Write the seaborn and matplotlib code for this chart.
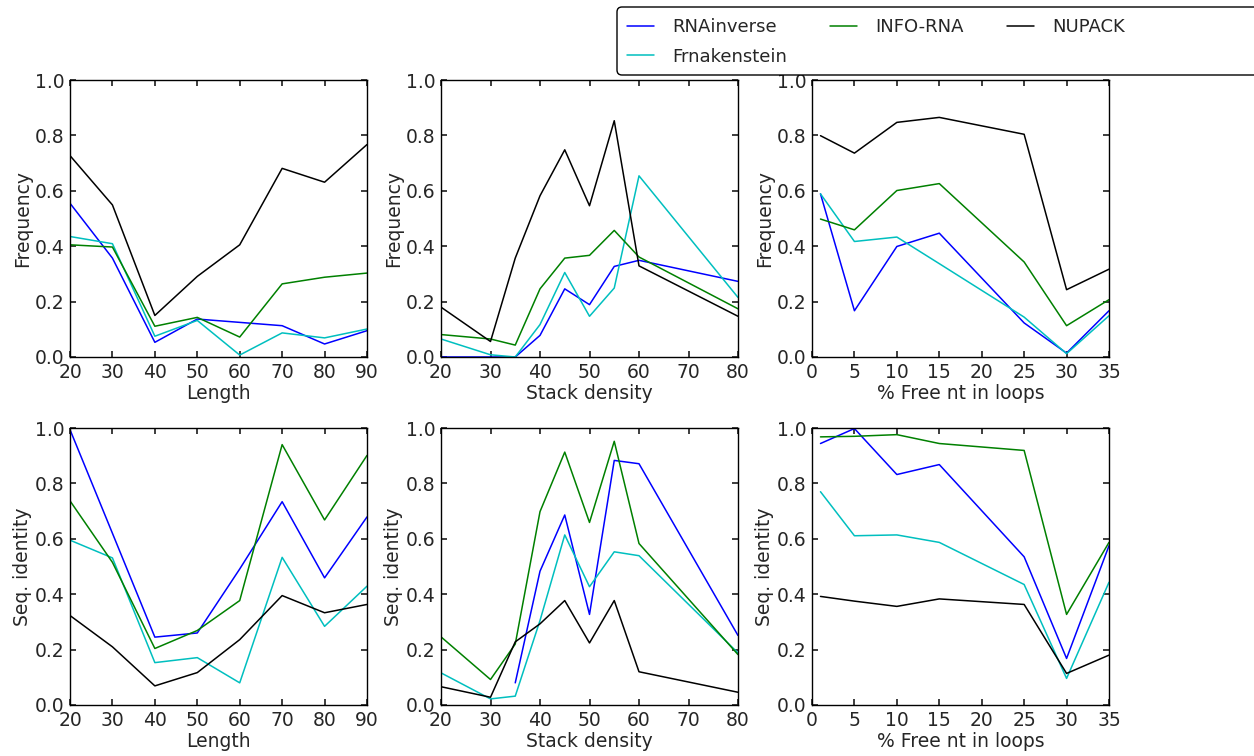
import numpy as np
import pandas as pd
import matplotlib
matplotlib.use("Agg")
import matplotlib.pyplot as plt
from matplotlib.patches import FancyBboxPatch
import seaborn as sns

# x positions for each panel column
length_x = [20, 30, 40, 50, 60, 70, 80, 90]
stack_x = [20, 30, 35, 40, 45, 50, 55, 60, 80]
free_x = [1, 5, 10, 15, 25, 30, 35]

methods = ["RNAinverse", "Frnakenstein", "INFO-RNA", "NUPACK"]

# Frequency vs length
freq_len_rnainverse = [0.555, 0.357, 0.053, 0.137, 0.125, 0.113, 0.047, 0.095]
freq_len_frnakenstein = [0.435, 0.409, 0.075, 0.132, 0.007, 0.087, 0.069, 0.101]
freq_len_inforna = [0.405, 0.397, 0.111, 0.143, 0.072, 0.264, 0.288, 0.303]
freq_len_nupack = [0.727, 0.549, 0.150, 0.291, 0.405, 0.681, 0.631, 0.767]

# Frequency vs stack density
freq_stack_rnainverse = [0.0, 0.0, 0.0, 0.078, 0.246, 0.189, 0.327, 0.349, 0.273]
freq_stack_frnakenstein = [0.065, 0.008, 0.0, 0.117, 0.305, 0.147, 0.249, 0.654, 0.215]
freq_stack_inforna = [0.081, 0.065, 0.043, 0.246, 0.357, 0.367, 0.457, 0.361, 0.174]
freq_stack_nupack = [0.180, 0.056, 0.357, 0.582, 0.748, 0.546, 0.853, 0.329, 0.147]

# Frequency vs % free nt in loops
freq_free_rnainverse = [0.589, 0.167, 0.399, 0.447, 0.123, 0.014, 0.167]
freq_free_frnakenstein = [0.589, 0.417, 0.433, 0.337, 0.144, 0.012, 0.149]
freq_free_inforna = [0.498, 0.459, 0.601, 0.626, 0.343, 0.113, 0.207]
freq_free_nupack = [0.799, 0.736, 0.847, 0.865, 0.804, 0.243, 0.317]

# Sequence identity vs length
seq_len_rnainverse = [0.994, 0.62, 0.245, 0.260, 0.491, 0.734, 0.459, 0.679]
seq_len_frnakenstein = [0.595, 0.531, 0.153, 0.171, 0.080, 0.533, 0.284, 0.429]
seq_len_inforna = [0.737, 0.515, 0.204, 0.269, 0.377, 0.940, 0.668, 0.901]
seq_len_nupack = [0.323, 0.21, 0.069, 0.117, 0.236, 0.395, 0.333, 0.363]

# Sequence identity vs stack density (RNAinverse has no value at 20, 30)
seq_stack_rnainverse = [np.nan, np.nan, 0.080, 0.483, 0.686, 0.327, 0.883, 0.871, 0.251]
seq_stack_frnakenstein = [0.116, 0.022, 0.032, 0.305, 0.614, 0.427, 0.553, 0.539, 0.188]
seq_stack_inforna = [0.246, 0.092, 0.22, 0.698, 0.913, 0.659, 0.952, 0.583, 0.182]
seq_stack_nupack = [0.066, 0.028, 0.228, 0.293, 0.377, 0.224, 0.377, 0.120, 0.046]

# Sequence identity vs % free nt in loops
seq_free_rnainverse = [0.944, 0.998, 0.832, 0.868, 0.535, 0.168, 0.575]
seq_free_frnakenstein = [0.770, 0.611, 0.614, 0.587, 0.435, 0.096, 0.443]
seq_free_inforna = [0.968, 0.970, 0.976, 0.944, 0.919, 0.327, 0.587]
seq_free_nupack = [0.392, 0.375, 0.356, 0.383, 0.363, 0.114, 0.180]

palette = {"RNAinverse": "#0000ff", "Frnakenstein": "#00bfbf",
           "INFO-RNA": "#008000", "NUPACK": "#000000"}


def long_frame(x, series):
    rows = []
    for name, vals in zip(methods, series):
        for xv, yv in zip(x, vals):
            rows.append({"x": xv, "y": yv, "method": name})
    return pd.DataFrame(rows).dropna()


panels = [
    (length_x, [freq_len_rnainverse, freq_len_frnakenstein, freq_len_inforna, freq_len_nupack],
     "Length", "Frequency", (20, 90), np.arange(20, 91, 10)),
    (stack_x, [freq_stack_rnainverse, freq_stack_frnakenstein, freq_stack_inforna, freq_stack_nupack],
     "Stack density", "Frequency", (20, 80), np.arange(20, 81, 10)),
    (free_x, [freq_free_rnainverse, freq_free_frnakenstein, freq_free_inforna, freq_free_nupack],
     "% Free nt in loops", "Frequency", (0, 35), np.arange(0, 36, 5)),
    (length_x, [seq_len_rnainverse, seq_len_frnakenstein, seq_len_inforna, seq_len_nupack],
     "Length", "Seq. identity", (20, 90), np.arange(20, 91, 10)),
    (stack_x, [seq_stack_rnainverse, seq_stack_frnakenstein, seq_stack_inforna, seq_stack_nupack],
     "Stack density", "Seq. identity", (20, 80), np.arange(20, 81, 10)),
    (free_x, [seq_free_rnainverse, seq_free_frnakenstein, seq_free_inforna, seq_free_nupack],
     "% Free nt in loops", "Seq. identity", (0, 35), np.arange(0, 36, 5)),
]

sns.set_theme(style="white", rc={
    "axes.edgecolor": "black", "axes.linewidth": 1.0,
    "xtick.direction": "in", "ytick.direction": "in",
    "xtick.top": True, "ytick.right": True,
    "xtick.bottom": True, "ytick.left": True,
    "xtick.major.size": 4, "ytick.major.size": 4,
    "xtick.major.pad": 4, "ytick.major.pad": 4,
    "xtick.labelsize": 13.5, "ytick.labelsize": 13.5,
    "axes.labelsize": 13.5, "legend.fontsize": 13,
    "axes.labelpad": 2,
})
plt.rcParams["font.family"] = ["DejaVu Sans"]

fig = plt.figure(figsize=(12.54, 7.56), dpi=100)
lefts = [70 / 1254, 441 / 1254, 812 / 1254]
bottoms = [1 - 357 / 756, 1 - 705 / 756]
w, h = 297 / 1254, 277 / 756

handles = None
for i, (x, series, xlabel, ylabel, xlim, xticks) in enumerate(panels):
    ax = fig.add_axes([lefts[i % 3], bottoms[i // 3], w, h])
    df = long_frame(x, series)
    sns.lineplot(data=df, x="x", y="y", hue="method", hue_order=methods,
                 palette=palette, estimator=None, sort=False, linewidth=1.1,
                 legend=(i == 0), ax=ax)
    if i == 0:
        handles, labels = ax.get_legend_handles_labels()
        ax.get_legend().remove()
    ax.set_xlim(*xlim)
    ax.set_ylim(0, 1)
    ax.set_xticks(xticks)
    ax.set_yticks(np.arange(0, 1.01, 0.2))
    ax.set_yticklabels([f"{v:.1f}" for v in np.arange(0, 1.01, 0.2)])
    ax.set_xlabel(xlabel)
    ax.set_ylabel(ylabel)

# legend box runs off the right edge of the figure, as in the original
frame = FancyBboxPatch((6.17, 6.81), 6.8, 0.68,
                       boxstyle="round,pad=0,rounding_size=0.05",
                       transform=fig.dpi_scale_trans, facecolor="white",
                       edgecolor="black", linewidth=1.0, zorder=0)
fig.patches.append(frame)

leg = fig.legend(handles, labels, ncol=3, loc="upper left",
                 bbox_to_anchor=(617 / 1254, 1 - 8 / 756),
                 frameon=False, handlelength=1.5, handletextpad=1.0,
                 columnspacing=2.4, labelspacing=0.65,
                 borderpad=0.55, borderaxespad=0)

fig.savefig("out.png", dpi=100)
